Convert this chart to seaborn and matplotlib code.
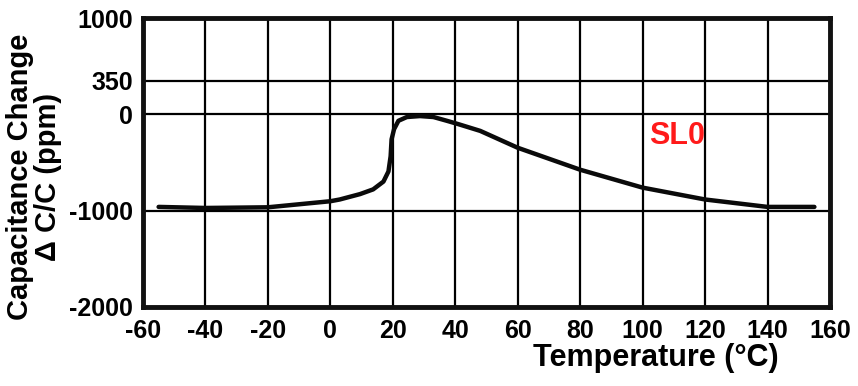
import matplotlib

matplotlib.use("Agg")

import matplotlib.pyplot as plt
import pandas as pd
import seaborn as sns

# curve (temperature in degC, change in ppm)
temperature = [-55, -40, -20, 0, 3, 9.5, 13.7, 17, 18.6, 19.3, 19.6, 20.4, 21.8,
               24.5, 28.7, 33, 37.3, 41, 48, 60, 80, 100, 120, 140, 155]
cap_change = [-961, -972, -965, -902, -884, -828, -779, -698, -593, -435, -260, -154, -67,
              -28, -18, -28, -67, -102, -172, -347, -575, -761, -884, -961, -961]

x_ticks = [-60, -40, -20, 0, 20, 40, 60, 80, 100, 120, 140, 160]
y_ticks = [1000, 350, 0, -1000, -2000]
series_label = "SL0"

sns.set_theme(style="white")
plt.rcParams["font.family"] = ["Liberation Sans", "DejaVu Sans"]
plt.rcParams["text.color"] = "black"
plt.rcParams["axes.labelcolor"] = "black"
plt.rcParams["xtick.color"] = "black"
plt.rcParams["ytick.color"] = "black"

df = pd.DataFrame({"temp": temperature, "ppm": cap_change})

fig = plt.figure(figsize=(8.58, 3.86), dpi=100)
ax = fig.add_axes([143 / 858, 1 - 307 / 386, (830 - 143) / 858, (307 - 18) / 386])

sns.lineplot(data=df, x="temp", y="ppm", ax=ax, color="#0a0a0a", linewidth=3.2,
             sort=False, zorder=3)

ax.set_xlim(-60, 160)
ax.set_ylim(-2000, 1000)
ax.set_xticks(x_ticks)
ax.set_yticks(y_ticks)
ax.set_xticklabels([str(t) for t in x_ticks], fontsize=18, fontweight="bold")
ax.set_yticklabels([str(t) for t in y_ticks], fontsize=18, fontweight="bold")
ax.tick_params(axis="y", length=0, pad=7)
ax.tick_params(axis="x", length=0, pad=9)

ax.grid(True, color="black", linewidth=1.6)
ax.set_axisbelow(True)
for spine in ax.spines.values():
    spine.set_color("#111111")
    spine.set_linewidth(3.5)
    spine.set_visible(True)

ax.set_xlabel("Temperature (°C)", fontsize=22, fontweight="bold")
ax.xaxis.set_label_coords(0.747, -0.125)
ax.set_ylabel("Capacitance Change\nΔ C/C (ppm)", fontsize=21, fontweight="bold",
              linespacing=1.0)
ax.yaxis.set_label_coords(-0.118, 0.45)

ax.text(111, -230, series_label, color="#ff1a1a", fontsize=22, fontweight="bold",
        ha="center", va="center")

fig.savefig("out.png", dpi=100)
